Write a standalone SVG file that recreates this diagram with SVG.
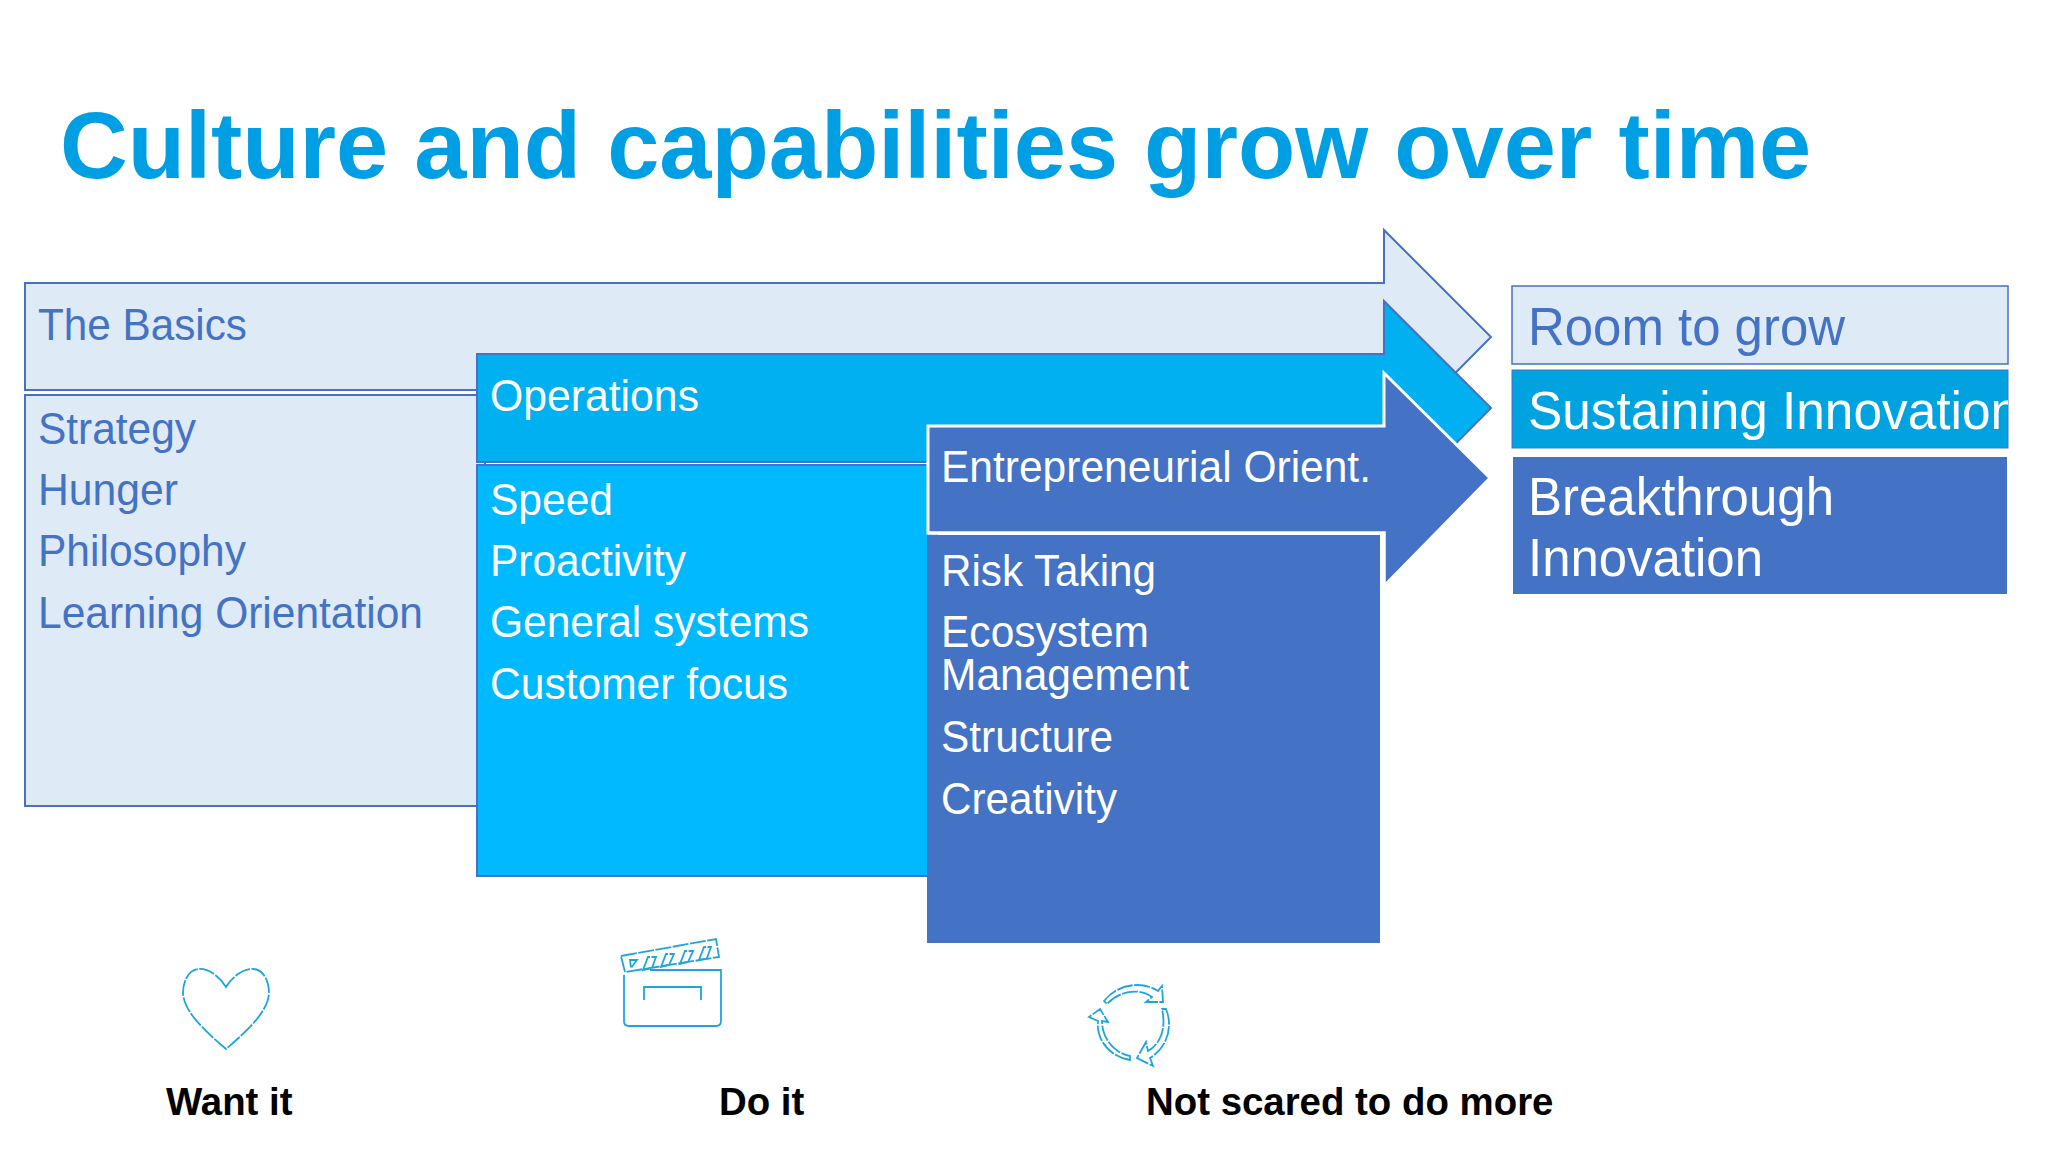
<svg xmlns="http://www.w3.org/2000/svg" width="2048" height="1152" viewBox="0 0 2048 1152">
<style>
text{font-family:"Liberation Sans",Arial,sans-serif;white-space:pre}
.t{font-size:44px}
.l{fill:#4472c4}
.w{fill:#fff}
.big{font-size:53px}
.cap{font-size:38.4px;font-weight:bold;fill:#000}
.ic{fill:none;stroke:#1fa5dd;stroke-width:1.8}
.d{stroke-dasharray:16 1.5}
</style>
<defs><clipPath id="c"><rect x="1512" y="370" width="496" height="78"/></clipPath></defs>
<rect width="2048" height="1152" fill="#fff"/>
<text x="60" y="178" font-size="93.8" font-weight="bold" fill="#009fe3">Culture and capabilities grow over time</text>
<g id="basics">
<path d="M25 283H1384V230L1491 337L1384 445V390H25Z" fill="#deeaf6" stroke="#4472c4" stroke-width="2"/>
<rect x="25" y="395" width="460" height="411" fill="#deeaf6" stroke="#4472c4" stroke-width="2"/>
<text class="t l" x="38" y="340" textLength="209" lengthAdjust="spacingAndGlyphs">The Basics</text>
<text class="t l" x="38" y="444" textLength="158" lengthAdjust="spacingAndGlyphs">Strategy</text>
<text class="t l" x="38" y="505" textLength="140" lengthAdjust="spacingAndGlyphs">Hunger</text>
<text class="t l" x="38" y="566" textLength="208" lengthAdjust="spacingAndGlyphs">Philosophy</text>
<text class="t l" x="38" y="628" textLength="385" lengthAdjust="spacingAndGlyphs">Learning Orientation</text>
</g>
<g id="operations">
<path d="M477 354H1384V301L1491 408L1384 516V462H477Z" fill="#00b0f0" stroke="#4472c4" stroke-width="2"/>
<rect x="477" y="465" width="460" height="411" fill="#00b9ff" stroke="#4472c4" stroke-width="2"/>
<text class="t w" x="490" y="411" textLength="209" lengthAdjust="spacingAndGlyphs">Operations</text>
<text class="t w" x="490" y="515" textLength="123" lengthAdjust="spacingAndGlyphs">Speed</text>
<text class="t w" x="490" y="576" textLength="196" lengthAdjust="spacingAndGlyphs">Proactivity</text>
<text class="t w" x="490" y="637" textLength="319" lengthAdjust="spacingAndGlyphs">General systems</text>
<text class="t w" x="490" y="699" textLength="298" lengthAdjust="spacingAndGlyphs">Customer focus</text>
</g>
<g id="entrepreneurial">
<path d="M928 426H1384V373L1490 478L1384 586V533H928Z" fill="#4472c4" stroke="#fff" stroke-width="3"/>
<rect x="927" y="535" width="453" height="408" fill="#4472c4"/>
<path d="M928 533H1384V586" fill="none" stroke="#fff" stroke-width="3"/>
<text class="t w" x="941" y="482" textLength="430" lengthAdjust="spacingAndGlyphs">Entrepreneurial Orient.</text>
<text class="t w" x="941" y="586" textLength="215" lengthAdjust="spacingAndGlyphs">Risk Taking</text>
<text class="t w" x="941" y="647" textLength="208" lengthAdjust="spacingAndGlyphs">Ecosystem</text>
<text class="t w" x="941" y="690" textLength="248" lengthAdjust="spacingAndGlyphs">Management</text>
<text class="t w" x="941" y="752" textLength="172" lengthAdjust="spacingAndGlyphs">Structure</text>
<text class="t w" x="941" y="814" textLength="176" lengthAdjust="spacingAndGlyphs">Creativity</text>
</g>
<g id="room">
<rect x="1512" y="286" width="496" height="78" fill="#deeaf6" stroke="#4472c4" stroke-width="1.5"/>
<text class="big l" x="1528" y="345" textLength="317" lengthAdjust="spacingAndGlyphs">Room to grow</text>
</g>
<g id="sustaining">
<rect x="1512" y="370" width="496" height="78" fill="#00a3e0" stroke="#4472c4" stroke-width="1"/>
<text class="big w" x="1528" y="429" clip-path="url(#c)" textLength="491" lengthAdjust="spacingAndGlyphs">Sustaining Innovation</text>
</g>
<g id="breakthrough">
<rect x="1513" y="457" width="494" height="137" fill="#4472c4"/>
<text class="big w" x="1528" y="515" textLength="306" lengthAdjust="spacingAndGlyphs">Breakthrough</text>
<text class="big w" x="1528" y="576" textLength="235" lengthAdjust="spacingAndGlyphs">Innovation</text>
</g>
<g id="want">
<path class="ic d" d="M226 987C218 974 206 968 198 969C188 970 183 982 183 993C184 1012 205 1031 226 1049C247 1031 268 1012 269 993C269 982 264 970 254 969C246 968 234 974 226 987Z"/>
<text class="cap" x="166" y="1115">Want it</text>
</g>
<g id="do">
<path class="ic" d="M650 970H721V1021Q721 1026 716 1026H629Q624 1026 624 1021V975"/>
<path class="ic" d="M644 1000V987H701V1000"/>
<path class="ic d" d="M621 956L716 939L719 957L625 972Z"/>
<path class="ic d" d="M630 960H637L631 968ZM643 970L648 957H656L652 968ZM661 967L666 954H674L669 965ZM680 964L685 951H693L688 962ZM699 960L704 947H711L707 958Z"/>
<text class="cap" x="719" y="1115">Do it</text>
</g>
<g id="more">
<path class="ic d" d="M1104 1001C1118 983 1143 981 1158 991L1162 986L1163 1002H1146L1152 997C1140 988 1120 990 1107 1004Z"/>
<path class="ic d" d="M1166 1009C1173 1026 1168 1047 1150 1058L1153 1066L1137 1058L1146 1042L1148 1051C1162 1043 1166 1026 1162 1009Z"/>
<path class="ic d" d="M1130 1060C1110 1057 1096 1040 1098 1021L1089 1017L1100 1009L1108 1022L1102 1021C1102 1038 1114 1053 1130 1056Z"/>
<text class="cap" x="1146" y="1115">Not scared to do more</text>
</g>
</svg>
